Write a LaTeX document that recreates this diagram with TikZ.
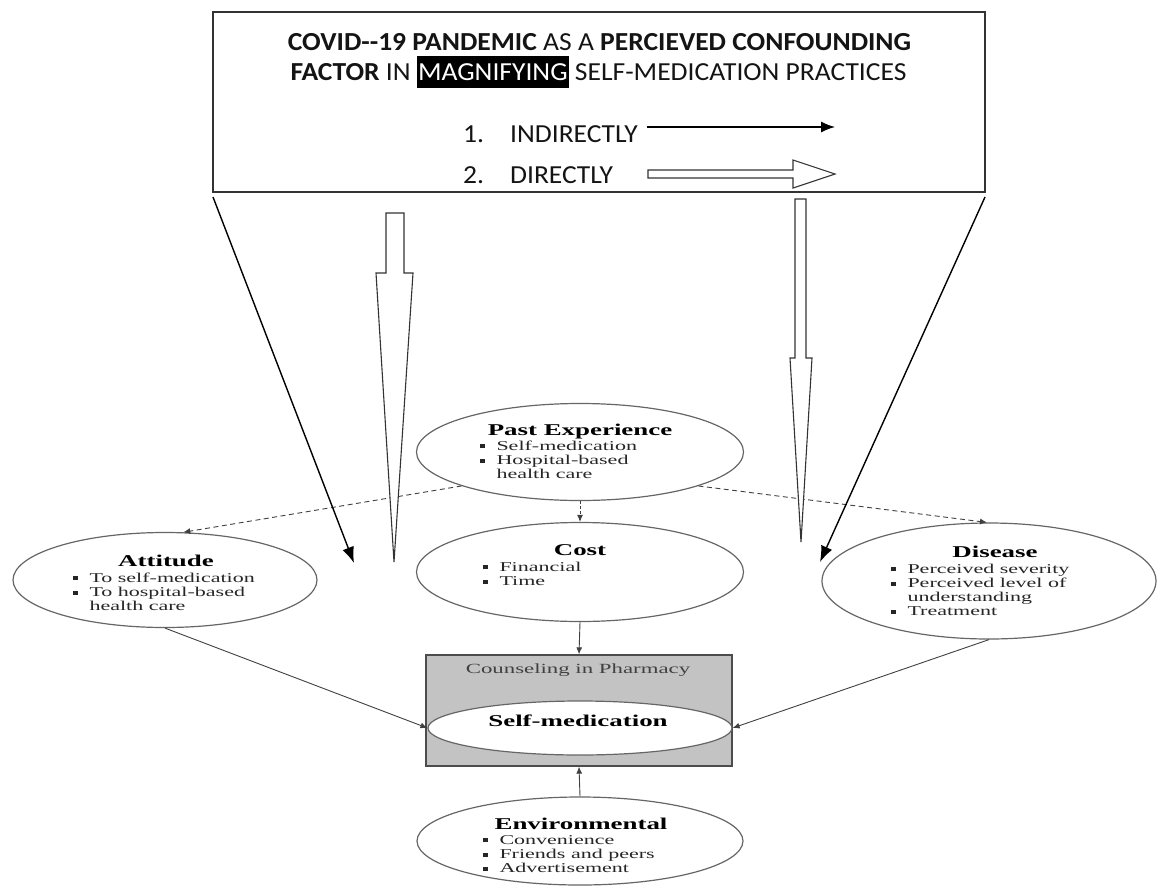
\documentclass[tikz,border=0pt]{standalone}
\usepackage{fontspec}
\setmainfont{Liberation Serif}
\newfontfamily\calfont{Carlito}
\usetikzlibrary{arrows.meta,shapes.geometric}
\newcommand{\stretchx}[1]{\scalebox{1.63}[1]{#1}}
\newcommand{\elltitle}[1]{\stretchx{\fontsize{16.5}{18}\selectfont\bfseries #1}}
\newcommand{\bul}[1]{\makebox[10pt][l]{\raisebox{1.6pt}{\rule{3.2pt}{4pt}}}#1}
\newcommand{\elllist}[1]{\stretchx{\fontsize{13.5}{14.3}\selectfont\begin{tabular}[t]{@{}l@{}}#1\end{tabular}}}
\newcommand{\topx}[1]{\scalebox{1.06}[1]{\calfont\fontsize{26}{30}\selectfont #1}}
\definecolor{boxgray}{HTML}{C3C3C3}
\begin{document}
\begin{tikzpicture}[x=1pt,y=-1pt,
  ell/.style={draw=black!60, line width=1.2pt, ellipse, inner sep=0pt, fill=white},
  lbl/.style={inner sep=0pt, anchor=base west, text=black!85},
  ttl/.style={inner sep=0pt, anchor=base, text=black},
  toptext/.style={inner sep=0pt, anchor=base, text=black!92},
  link/.style={draw=black!75, line width=0.9pt, -{Latex[length=7pt,width=6pt]}},
  dlink/.style={link, dash pattern=on 5pt off 3.5pt},
  bigarrow/.style={draw=black, line width=1.4pt, -{Latex[length=16pt,width=12pt]}},
  hollow/.style={draw=black!80, line width=1.1pt, fill=white, line join=miter}]
\useasboundingbox (0,0) rectangle (1159,886);

% ---------- top box ----------
\node[draw=black!80, line width=1.4pt, minimum width=772pt, minimum height=180pt, inner sep=0pt] (topbox) at (599,102) {};
\node[toptext] (l1) at (599.5,50) {\topx{\textbf{COVID-\kern0pt-19 PANDEMIC} AS A \textbf{PERCIEVED CONFOUNDING}}};
\node[toptext] (l2) at (598.5,80) {\topx{\textbf{FACTOR} IN {\setlength\fboxsep{1pt}\colorbox{black}{\rule[-7pt]{0pt}{30pt}\textcolor{white}{MAGNIFYING}}} SELF-MEDICATION PRACTICES}};
\node[toptext, anchor=base west] (ind) at (463,142) {\topx{\makebox[44.3pt][l]{1.}INDIRECTLY}};
\node[toptext, anchor=base west] (dir) at (463,183) {\topx{\makebox[44.3pt][l]{2.}DIRECTLY}};
\coordinate (ia1) at (647,127);
\coordinate (ia2) at (835,127);
\draw[draw=black, line width=1.3pt, -{Latex[length=14pt,width=11pt]}] (ia1) -- (ia2);
\draw[hollow] (648,170) -- (793,170) -- (793,160) -- (835,174) -- (793,188) -- (793,178) -- (648,178) -- cycle;

% ---------- lower ellipses ----------
\node[draw=black!70, line width=1.3pt, fill=boxgray, minimum width=306pt, minimum height=111pt, inner sep=0pt] (coun) at (579,710.5) {};
\node[ell, minimum width=327pt, minimum height=97pt] (past) at (580,452) {};
\node[ell, minimum width=327pt, minimum height=99pt] (cost) at (580,572) {};
\node[ell, minimum width=304pt, minimum height=95pt] (att) at (165,580) {};
\node[ell, minimum width=334pt, minimum height=116pt] (dis) at (989,581) {};
\node[ell, minimum width=304pt, minimum height=54pt] (self) at (580,728) {};
\node[ell, minimum width=326pt, minimum height=88pt] (env) at (580,841) {};

% texts
\node[ttl] (pastT) at (580,435) {\elltitle{Past Experience}};
\node[lbl] (pastL) at (480,450) {\elllist{\bul{Self-medication}\\ \bul{Hospital-based}\\ \hspace{10pt}health care}};
\node[ttl] (costT) at (580,555) {\elltitle{Cost}};
\node[lbl] (costL) at (483,571) {\elllist{\bul{Financial}\\ \bul{Time}}};
\node[ttl] (attT) at (166,566) {\elltitle{Attitude}};
\node[lbl] (attL) at (73,582) {\elllist{\bul{To self-medication}\\ \bul{To hospital-based}\\ \hspace{10pt}health care}};
\node[ttl] (disT) at (995,557) {\elltitle{Disease}};
\node[lbl] (disL) at (891,573) {\elllist{\bul{Perceived severity}\\ \bul{Perceived level of}\\ \hspace{10pt}understanding\\ \bul{Treatment}}};
\node[ttl, text=black!75] (counT) at (578,673) {\stretchx{\fontsize{14}{16}\selectfont Counseling in Pharmacy}};
\node[ttl] (selfT) at (578,726) {\elltitle{Self-medication}};
\node[ttl] (envT) at (581,829) {\elltitle{Environmental}};
\node[lbl] (envL) at (483,844) {\elllist{\bul{Convenience}\\ \bul{Friends and peers}\\ \bul{Advertisement}}};

% connectors
\draw[dlink] (past.196) -- (att.69);
\draw[dlink] (past.344) -- (dis.92);
\draw[link, dash pattern=on 3pt off 2pt] (past.south) -- (cost.north);
\draw[link] (cost.south) -- (coun.north);
\draw[link] (att.south) -- (self.west);
\draw[link] (dis.south) -- (self.east);
\draw[link] (env.north) -- (coun.south);

% ---------- COVID arrows ----------
\coordinate (la1) at (213,197);
\coordinate (la2) at (354,563);
\coordinate (ra1) at (985,197);
\coordinate (ra2) at (820,562);
\draw[bigarrow] (la1) -- (la2);
\draw[bigarrow] (ra1) -- (ra2);
\draw[hollow] (386,213) -- (404,213) -- (404,273) -- (413,273) -- (394,562) -- (376,273) -- (386,273) -- cycle;
\draw[hollow] (795,199) -- (806,199) -- (806,358) -- (812,358) -- (801,542) -- (790,358) -- (795,358) -- cycle;
\end{tikzpicture}
\end{document}
